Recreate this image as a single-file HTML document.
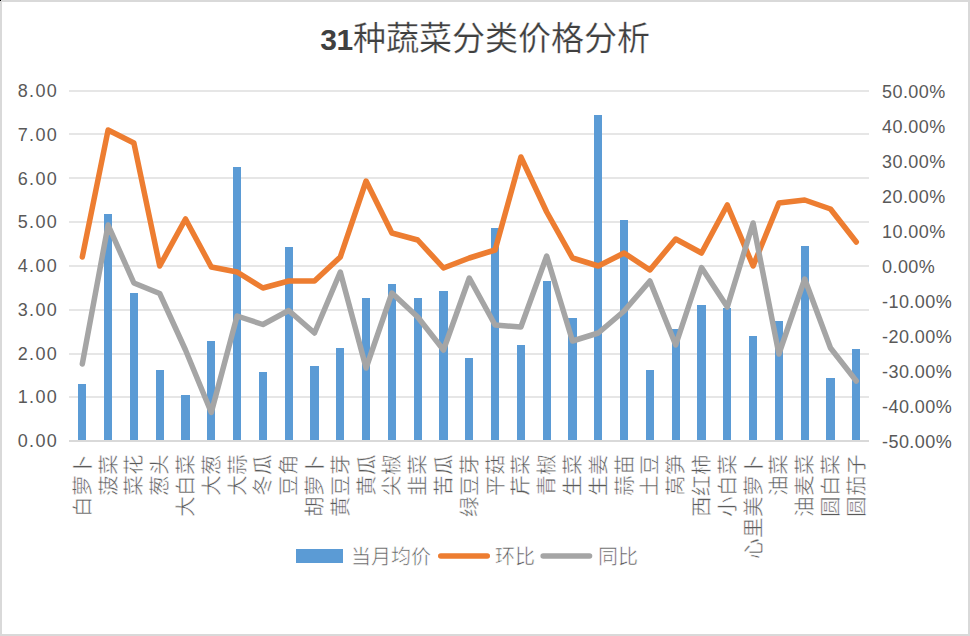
<!DOCTYPE html>
<html lang="zh-CN"><head><meta charset="utf-8">
<style>
html,body{margin:0;padding:0;background:#fff;}
body{width:970px;height:636px;position:relative;overflow:hidden;font-family:"Liberation Sans",sans-serif;color:#595959;}
.frame{position:absolute;left:0;top:0;width:966px;height:632px;border:2px solid #d9d9d9;}
svg{position:absolute;left:0;top:0;}
.ct{font-size:20.6px;font-weight:300;fill:#595959;stroke:#fff;stroke-width:0.45px;font-family:"Liberation Sans",sans-serif;}
.title{position:absolute;left:0;width:970px;top:17px;text-align:center;font-size:33px;font-weight:normal;line-height:44px;color:#404040;white-space:nowrap;}
.title b{font-weight:bold;font-size:30px;letter-spacing:-0.5px;}
.tc{font-weight:500;-webkit-text-stroke:0.25px #fff;}
.la{position:absolute;right:912px;font-size:18px;line-height:22px;white-space:nowrap;letter-spacing:1.3px;}
.ra{position:absolute;left:882px;font-size:18px;line-height:22px;white-space:nowrap;letter-spacing:0.45px;}
.legend{position:absolute;top:540px;left:0;width:970px;height:30px;font-size:20px;color:#595959;-webkit-text-stroke:0.55px #fff;}
.legend div{position:absolute;white-space:nowrap;line-height:30px;}
</style></head><body>
<div class="frame"></div>
<div style="position:absolute;left:0;top:0;width:1px;height:1px;background:#000"></div>
<div class="title"><b>31</b><span class="tc">种蔬菜分类价格分析</span></div>
<svg width="970" height="636" viewBox="0 0 970 636">
<rect x="69" y="90" width="800" height="2" fill="#e6e6e6"/>
<rect x="69" y="133" width="800" height="2" fill="#e6e6e6"/>
<rect x="69" y="177" width="800" height="2" fill="#e6e6e6"/>
<rect x="69" y="221" width="800" height="2" fill="#e6e6e6"/>
<rect x="69" y="265" width="800" height="2" fill="#e6e6e6"/>
<rect x="69" y="309" width="800" height="2" fill="#e6e6e6"/>
<rect x="69" y="353" width="800" height="2" fill="#e6e6e6"/>
<rect x="69" y="396" width="800" height="2" fill="#e6e6e6"/>
<rect x="78" y="384" width="8" height="56" fill="#5b9bd5"/>
<rect x="104" y="214" width="8" height="226" fill="#5b9bd5"/>
<rect x="130" y="293" width="8" height="147" fill="#5b9bd5"/>
<rect x="156" y="370" width="8" height="70" fill="#5b9bd5"/>
<rect x="181" y="395" width="9" height="45" fill="#5b9bd5"/>
<rect x="207" y="341" width="8" height="99" fill="#5b9bd5"/>
<rect x="233" y="167" width="8" height="273" fill="#5b9bd5"/>
<rect x="259" y="372" width="8" height="68" fill="#5b9bd5"/>
<rect x="285" y="247" width="8" height="193" fill="#5b9bd5"/>
<rect x="310" y="366" width="9" height="74" fill="#5b9bd5"/>
<rect x="336" y="348" width="8" height="92" fill="#5b9bd5"/>
<rect x="362" y="298" width="8" height="142" fill="#5b9bd5"/>
<rect x="388" y="284" width="8" height="156" fill="#5b9bd5"/>
<rect x="414" y="298" width="8" height="142" fill="#5b9bd5"/>
<rect x="439" y="291" width="9" height="149" fill="#5b9bd5"/>
<rect x="465" y="358" width="8" height="82" fill="#5b9bd5"/>
<rect x="491" y="228" width="8" height="212" fill="#5b9bd5"/>
<rect x="517" y="345" width="8" height="95" fill="#5b9bd5"/>
<rect x="543" y="281" width="8" height="159" fill="#5b9bd5"/>
<rect x="568" y="318" width="9" height="122" fill="#5b9bd5"/>
<rect x="594" y="115" width="8" height="325" fill="#5b9bd5"/>
<rect x="620" y="220" width="8" height="220" fill="#5b9bd5"/>
<rect x="646" y="370" width="8" height="70" fill="#5b9bd5"/>
<rect x="672" y="329" width="8" height="111" fill="#5b9bd5"/>
<rect x="697" y="305" width="9" height="135" fill="#5b9bd5"/>
<rect x="723" y="308" width="8" height="132" fill="#5b9bd5"/>
<rect x="749" y="336" width="8" height="104" fill="#5b9bd5"/>
<rect x="775" y="321" width="8" height="119" fill="#5b9bd5"/>
<rect x="801" y="246" width="8" height="194" fill="#5b9bd5"/>
<rect x="826" y="378" width="9" height="62" fill="#5b9bd5"/>
<rect x="852" y="349" width="8" height="91" fill="#5b9bd5"/>
<rect x="69" y="440" width="800" height="2" fill="#d9d9d9"/>
<polyline points="82.30,257 108.10,130 133.90,143 159.70,266 185.50,219 211.30,267 237.10,272 262.90,288 288.70,281 314.50,281 340.30,257 366.10,181 391.90,233 417.70,240 443.50,268 469.30,258 495.10,250 520.90,157 546.70,212 572.50,258 598.30,266 624.10,253 649.90,270 675.70,239 701.50,253 727.30,205 753.10,266 778.90,203 804.70,200 830.50,209 856.30,242" fill="none" stroke="#ed7d31" stroke-width="5.5" stroke-linejoin="round" stroke-linecap="round"/>
<polyline points="82.30,364 108.10,225 133.90,283 159.70,293.5 185.50,350 211.30,412.5 237.10,316 262.90,324.5 288.70,310.5 314.50,333 340.30,272 366.10,368 391.90,293 417.70,317 443.50,350 469.30,278 495.10,325 520.90,327 546.70,256 572.50,341 598.30,333 624.10,311 649.90,281 675.70,345 701.50,267.5 727.30,307 753.10,223 778.90,354 804.70,279 830.50,348 856.30,381" fill="none" stroke="#a5a5a5" stroke-width="5.5" stroke-linejoin="round" stroke-linecap="round"/>
<line x1="440.8" y1="556" x2="487.2" y2="556" stroke="#ed7d31" stroke-width="5.6" stroke-linecap="round"/>
<line x1="543.2" y1="556" x2="589.5" y2="556" stroke="#a5a5a5" stroke-width="5.6" stroke-linecap="round"/>
<text transform="translate(82.30,454) rotate(-90)" text-anchor="end" dominant-baseline="central" class="ct">白萝卜</text>
<text transform="translate(108.10,454) rotate(-90)" text-anchor="end" dominant-baseline="central" class="ct">菠菜</text>
<text transform="translate(133.90,454) rotate(-90)" text-anchor="end" dominant-baseline="central" class="ct">菜花</text>
<text transform="translate(159.70,454) rotate(-90)" text-anchor="end" dominant-baseline="central" class="ct">葱头</text>
<text transform="translate(185.50,454) rotate(-90)" text-anchor="end" dominant-baseline="central" class="ct">大白菜</text>
<text transform="translate(211.30,454) rotate(-90)" text-anchor="end" dominant-baseline="central" class="ct">大葱</text>
<text transform="translate(237.10,454) rotate(-90)" text-anchor="end" dominant-baseline="central" class="ct">大蒜</text>
<text transform="translate(262.90,454) rotate(-90)" text-anchor="end" dominant-baseline="central" class="ct">冬瓜</text>
<text transform="translate(288.70,454) rotate(-90)" text-anchor="end" dominant-baseline="central" class="ct">豆角</text>
<text transform="translate(314.50,454) rotate(-90)" text-anchor="end" dominant-baseline="central" class="ct">胡萝卜</text>
<text transform="translate(340.30,454) rotate(-90)" text-anchor="end" dominant-baseline="central" class="ct">黄豆芽</text>
<text transform="translate(366.10,454) rotate(-90)" text-anchor="end" dominant-baseline="central" class="ct">黄瓜</text>
<text transform="translate(391.90,454) rotate(-90)" text-anchor="end" dominant-baseline="central" class="ct">尖椒</text>
<text transform="translate(417.70,454) rotate(-90)" text-anchor="end" dominant-baseline="central" class="ct">韭菜</text>
<text transform="translate(443.50,454) rotate(-90)" text-anchor="end" dominant-baseline="central" class="ct">苦瓜</text>
<text transform="translate(469.30,454) rotate(-90)" text-anchor="end" dominant-baseline="central" class="ct">绿豆芽</text>
<text transform="translate(495.10,454) rotate(-90)" text-anchor="end" dominant-baseline="central" class="ct">平菇</text>
<text transform="translate(520.90,454) rotate(-90)" text-anchor="end" dominant-baseline="central" class="ct">芹菜</text>
<text transform="translate(546.70,454) rotate(-90)" text-anchor="end" dominant-baseline="central" class="ct">青椒</text>
<text transform="translate(572.50,454) rotate(-90)" text-anchor="end" dominant-baseline="central" class="ct">生菜</text>
<text transform="translate(598.30,454) rotate(-90)" text-anchor="end" dominant-baseline="central" class="ct">生姜</text>
<text transform="translate(624.10,454) rotate(-90)" text-anchor="end" dominant-baseline="central" class="ct">蒜苗</text>
<text transform="translate(649.90,454) rotate(-90)" text-anchor="end" dominant-baseline="central" class="ct">土豆</text>
<text transform="translate(675.70,454) rotate(-90)" text-anchor="end" dominant-baseline="central" class="ct">莴笋</text>
<text transform="translate(701.50,454) rotate(-90)" text-anchor="end" dominant-baseline="central" class="ct">西红柿</text>
<text transform="translate(727.30,454) rotate(-90)" text-anchor="end" dominant-baseline="central" class="ct">小白菜</text>
<text transform="translate(753.10,454) rotate(-90)" text-anchor="end" dominant-baseline="central" class="ct">心里美萝卜</text>
<text transform="translate(778.90,454) rotate(-90)" text-anchor="end" dominant-baseline="central" class="ct">油菜</text>
<text transform="translate(804.70,454) rotate(-90)" text-anchor="end" dominant-baseline="central" class="ct">油麦菜</text>
<text transform="translate(830.50,454) rotate(-90)" text-anchor="end" dominant-baseline="central" class="ct">圆白菜</text>
<text transform="translate(856.30,454) rotate(-90)" text-anchor="end" dominant-baseline="central" class="ct">圆茄子</text>
</svg>
<div class="la" style="top:430.00px">0.00</div>
<div class="la" style="top:386.25px">1.00</div>
<div class="la" style="top:342.50px">2.00</div>
<div class="la" style="top:298.75px">3.00</div>
<div class="la" style="top:255.00px">4.00</div>
<div class="la" style="top:211.25px">5.00</div>
<div class="la" style="top:167.50px">6.00</div>
<div class="la" style="top:123.75px">7.00</div>
<div class="la" style="top:80.00px">8.00</div>
<div class="ra" style="top:430.50px">-50.00%</div>
<div class="ra" style="top:395.50px">-40.00%</div>
<div class="ra" style="top:360.50px">-30.00%</div>
<div class="ra" style="top:325.50px">-20.00%</div>
<div class="ra" style="top:290.50px">-10.00%</div>
<div class="ra" style="top:255.50px">0.00%</div>
<div class="ra" style="top:220.50px">10.00%</div>
<div class="ra" style="top:185.50px">20.00%</div>
<div class="ra" style="top:150.50px">30.00%</div>
<div class="ra" style="top:115.50px">40.00%</div>
<div class="ra" style="top:80.50px">50.00%</div>
<div class="legend">
<div style="left:296px;top:9px;width:47px;height:14px;background:#5b9bd5"></div>
<div style="left:351px;top:2px">当月均价</div>
<div style="left:494.5px;top:2px">环比</div>
<div style="left:597.5px;top:2px">同比</div>
</div>
</body></html>
